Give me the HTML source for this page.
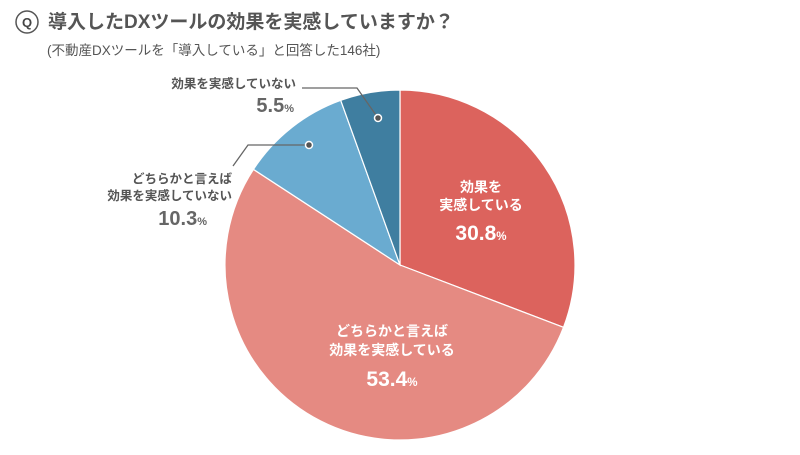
<!DOCTYPE html>
<html><head><meta charset="utf-8"><style>
body{margin:0;width:800px;height:450px;background:#fff;overflow:hidden;font-family:"Liberation Sans","Noto Sans CJK JP",sans-serif;}
</style></head><body>
<svg id="c" width="800" height="450" xmlns="http://www.w3.org/2000/svg">
<g>
<circle cx="27" cy="22" r="11" fill="#fff" stroke="#555" stroke-width="1.5"/>
<text x="27" y="27" text-anchor="middle" font-size="13" font-weight="bold" fill="#444">Q</text>
<text x="48" y="28" font-size="19" font-weight="bold" fill="#555">導入したDXツールの効果を実感していますか？</text>
<text x="47" y="55" font-size="13.5" fill="#555">(不動産DXツールを「導入している」と回答した146社)</text>
</g>
<g id="slices"></g>
<g stroke="#666" stroke-width="1.3" fill="none">
<polyline points="302,88 357,88 378,118"/>
<polyline points="309,145 248,145 233,166"/>
</g>
<circle cx="378" cy="118" r="3.5" fill="#555" stroke="#fff" stroke-width="1.5"/>
<circle cx="309" cy="145" r="3.5" fill="#555" stroke="#fff" stroke-width="1.5"/>
<g id="labels"></g>
</svg>
<script>
const values=[30.8,53.4,10.3,5.5];
const labels=[["効果を","実感している"],["どちらかと言えば","効果を実感している"],["どちらかと言えば","効果を実感していない"],["効果を実感していない"]];
const colors=["#dc635d","#e58a82","#6aabd0","#3f7ea0"];
const cx=400,cy=265,r=175;
const ns="http://www.w3.org/2000/svg";
const g=document.getElementById('slices');
const total=values.reduce((a,b)=>a+b,0);
let a0=0;
const pt=(a,rr)=>[cx+rr*Math.sin(a),cy-rr*Math.cos(a)];
values.forEach((v,i)=>{
  const a1=a0+v/total*2*Math.PI;
  const p0=pt(a0,r),p1=pt(a1,r);
  const p=document.createElementNS(ns,'path');
  p.setAttribute('d',`M${cx},${cy}L${p0[0]},${p0[1]}A${r},${r} 0 ${a1-a0>Math.PI?1:0} 1 ${p1[0]},${p1[1]}Z`);
  p.setAttribute('fill',colors[i]);p.setAttribute('stroke','#fff');p.setAttribute('stroke-width','1.2');
  
  
  g.appendChild(p);
  a0=a1;
});
const L=document.getElementById('labels');
function txt(x,y,s,size,fill,anchor,w,name){
  const t=document.createElementNS(ns,'text');
  t.setAttribute('x',x);t.setAttribute('y',y);t.setAttribute('font-size',size);t.setAttribute('fill',fill);
  t.setAttribute('text-anchor',anchor);t.setAttribute('font-weight',w);
  
  
  t.textContent=s;L.appendChild(t);return t;
}
function pct(x,y,v,size,fill,anchor,name){
  const t=txt(x,y,'',size,fill,anchor,'bold',name);
  const a=document.createElementNS(ns,'tspan');a.textContent=v.toFixed(1);t.appendChild(a);
  const b=document.createElementNS(ns,'tspan');b.setAttribute('font-size',size*0.55);b.textContent='%';t.appendChild(b);
}
// inside labels
txt(481,192,labels[0][0],14,'#fff','middle','bold','label-0-line1');
txt(481,210,labels[0][1],14,'#fff','middle','bold','label-0-line2');
pct(481,240,values[0],21,'#fff','middle','value-0');
txt(392,336,labels[1][0],14,'#fff','middle','bold','label-1-line1');
txt(392,355,labels[1][1],14,'#fff','middle','bold','label-1-line2');
pct(392,386,values[1],21,'#fff','middle','value-1');
// outside labels
txt(232,183,labels[2][0],12.5,'#555','end','bold','label-2-line1');
txt(232,200,labels[2][1],12.5,'#555','end','bold','label-2-line2');
pct(207,225,values[2],20,'#666','end','value-2');
txt(296,88,labels[3][0],12.5,'#555','end','bold','label-3');
pct(294,112,values[3],20,'#666','end','value-3');
</script>
</body></html>
